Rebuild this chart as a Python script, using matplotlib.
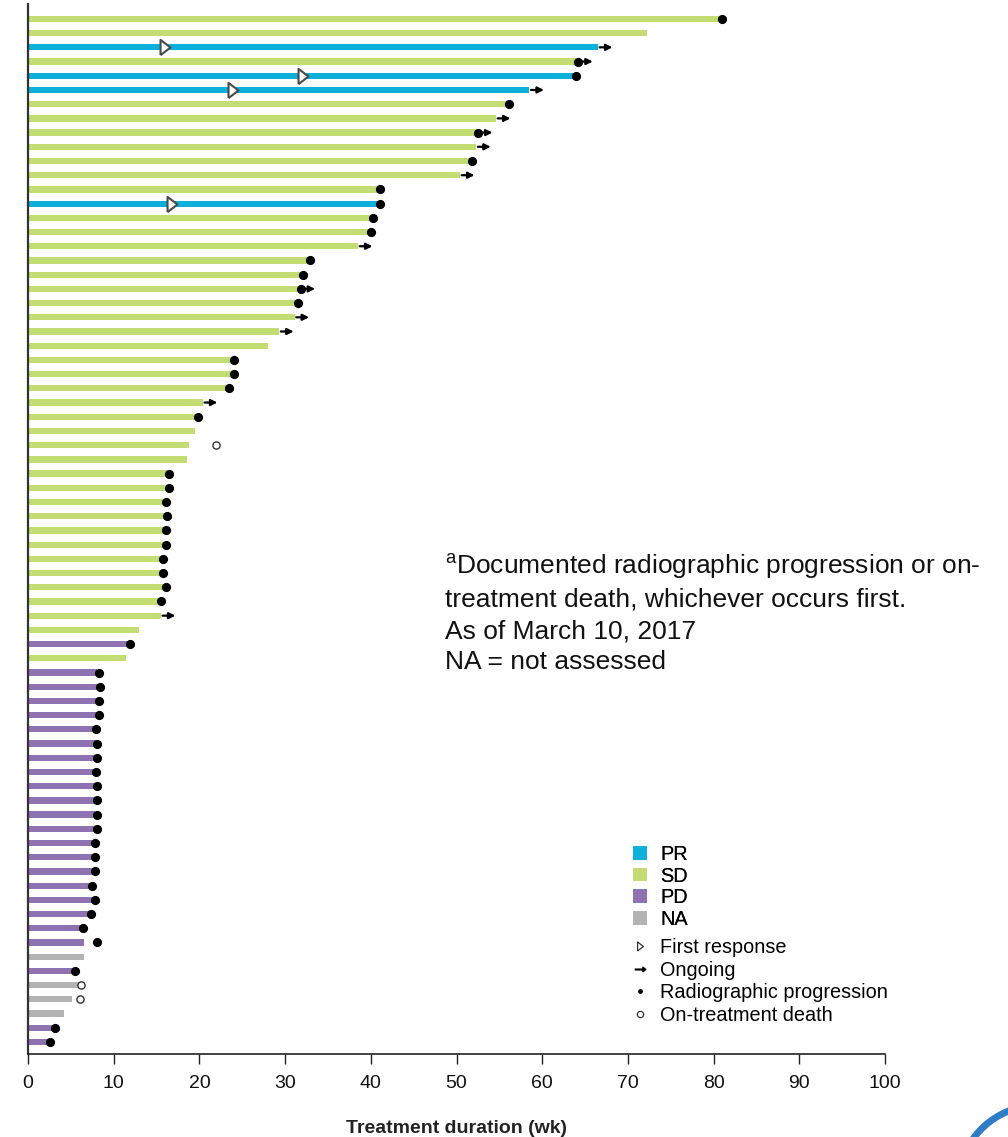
import numpy as np
import matplotlib
matplotlib.use("Agg")
import matplotlib.pyplot as plt
from matplotlib.patches import Patch, Arc
from matplotlib.lines import Line2D

plt.rcParams['font.family'] = ['Liberation Sans', 'DejaVu Sans']
plt.rcParams['mathtext.fontset'] = 'custom'
plt.rcParams['mathtext.rm'] = 'Liberation Sans'
plt.rcParams['mathtext.it'] = 'Liberation Sans:italic'

nan = np.nan

# ---- data (one entry per patient, top to bottom) ----
response = ["SD", "SD", "PR", "SD", "PR", "PR", "SD", "SD", "SD", "SD",
            "SD", "SD", "SD", "PR", "SD", "SD", "SD", "SD", "SD", "SD",
            "SD", "SD", "SD", "SD", "SD", "SD", "SD", "SD", "SD", "SD",
            "SD", "SD", "SD", "SD", "SD", "SD", "SD", "SD", "SD", "SD",
            "SD", "SD", "SD", "SD", "PD", "SD", "PD", "PD", "PD", "PD",
            "PD", "PD", "PD", "PD", "PD", "PD", "PD", "PD", "PD", "PD",
            "PD", "PD", "PD", "PD", "PD", "PD", "NA", "PD", "NA", "NA",
            "NA", "PD", "PD"]

duration = [81.0, 72.2, 66.5, 64.2, 64.0, 58.5, 56.1, 54.6, 52.5, 52.3,
            51.8, 50.4, 41.1, 41.1, 40.2, 40.0, 38.5, 32.9, 32.1, 31.8,
            31.5, 31.1, 29.3, 28.0, 24.0, 24.0, 23.7, 20.4, 19.8, 19.5,
            18.8, 18.6, 16.5, 16.4, 16.1, 16.2, 16.1, 16.1, 15.8, 15.8,
            16.1, 15.5, 15.5, 12.9, 11.6, 11.4, 8.1, 8.2, 8.1, 8.1,
            7.8, 7.9, 7.8, 7.8, 8.0, 7.9, 7.8, 7.9, 7.7, 7.7,
            7.7, 7.4, 7.7, 7.2, 6.8, 6.5, 6.5, 6.0, 6.2, 5.1,
            4.2, 2.8, 2.2]

progression = [81.0, nan, nan, 64.2, 64.0, nan, 56.1, nan, 52.5, nan,
               51.8, nan, 41.1, 41.1, 40.2, 40.0, nan, 32.9, 32.1, 31.8,
               31.5, nan, nan, nan, 24.0, 24.0, 23.5, nan, 19.8, nan,
               nan, nan, 16.5, 16.4, 16.1, 16.2, 16.1, 16.1, 15.8, 15.8,
               16.1, 15.5, nan, nan, 11.9, nan, 8.3, 8.4, 8.3, 8.3,
               7.9, 8.0, 8.0, 7.9, 8.1, 8.0, 8.0, 8.05, 7.8, 7.85,
               7.8, 7.5, 7.8, 7.3, 6.4, 8.0, nan, 5.5, nan, nan,
               nan, 3.1, 2.6]

death = [nan] * 30 + [21.9] + [nan] * 37 + [6.2, 6.1] + [nan] * 3

ongoing = [False, False, True, True, False, True, False, True, True, True,
           False, True, False, False, False, False, True, False, False, True,
           False, True, True, False, False, False, False, True, False, False,
           False, False, False, False, False, False, False, False, False, False,
           False, False, True, False, False, False, False, False, False, False,
           False, False, False, False, False, False, False, False, False, False,
           False, False, False, False, False, False, False, False, False, False,
           False, False, False]

first_response = [nan, nan, 16.0, nan, 32.1, 23.9] + [nan] * 7 + [16.8] + [nan] * 59

colors = {"PR": "#0cb0db", "SD": "#c4dc74", "PD": "#8e72b2", "NA": "#b3b3b3"}
categories = ["PR", "SD", "PD", "NA"]
xticks = [0, 10, 20, 30, 40, 50, 60, 70, 80, 90, 100]

notes = [r'$^{\mathrm{a}}$Documented radiographic progression or on-',
         'treatment death, whichever occurs first.',
         'As of March 10, 2017',
         'NA = not assessed']

# ---- figure ----
fig = plt.figure(figsize=(10.08, 11.37), dpi=100)
ax = fig.add_axes([28 / 1008, 1 - 1054 / 1137, (885 - 28) / 1008, (1054 - 4) / 1137])

y = np.arange(len(duration))
ax.barh(y, duration, height=0.44, color=[colors[r] for r in response], zorder=2)

# ongoing arrows
for yi, d, og in zip(y, duration, ongoing):
    if og:
        ax.annotate('', xy=(d + 1.7, yi), xytext=(d + 0.2, yi),
                    arrowprops=dict(arrowstyle='-|>', color='black', lw=1.6,
                                    mutation_scale=9, shrinkA=0, shrinkB=0),
                    zorder=3)

prog = np.array(progression)
ax.plot(prog, y, 'o', color='black', ms=5.6, zorder=4, linestyle='none')

dth = np.array(death)
ax.plot(dth, y, 'o', mfc='white', mec='#333333', mew=1.0, ms=5.2, zorder=4, linestyle='none')

tri = [(-0.65, -1.0), (0.65, 0.0), (-0.65, 1.0), (-0.65, -1.0)]
fr = np.array(first_response)
ax.plot(fr, y, marker=tri, mfc='white', mec='#4a4a4a', mew=1.5, ms=11, zorder=4, linestyle='none')

ax.set_xlim(0, 100)
ax.set_ylim(len(duration) - 1 + 0.85, -1.05)
ax.set_yticks([])
ax.set_xticks(xticks)
ax.set_xticklabels([str(t) for t in xticks], fontsize=14)
ax.tick_params(axis='x', direction='out', length=7, width=1.0, pad=8, color='#222222',
               labelcolor='#111111')
for s in ['top', 'right']:
    ax.spines[s].set_visible(False)
ax.spines['left'].set_linewidth(1.6)
ax.spines['left'].set_color('#333333')
ax.spines['bottom'].set_linewidth(1.2)
ax.spines['bottom'].set_color('#222222')
ax.set_xlabel('Treatment duration (wk)', fontweight='bold', fontsize=14, labelpad=20,
              color='#222222')

# footnote text
baselines = [574, 606, 638, 669]
for t, b in zip(notes, baselines):
    fig.text(445 / 1008, 1 - b / 1137, t, fontsize=19, ha='left',
             va='baseline', color='#111111')

# legends
h1 = [Patch(facecolor=colors[c], edgecolor='none', label=c) for c in categories]
leg1 = fig.legend(handles=h1, loc='upper left', bbox_to_anchor=(633 / 1008, 1 - 845 / 1137),
                  frameon=False, fontsize=14.3, handlelength=0.68, handleheight=0.68,
                  handletextpad=0.7, labelspacing=0.13, borderpad=0, borderaxespad=0)
h2 = [Line2D([], [], marker=tri, ls='none', mfc='white', mec='#333333', mew=0.9, ms=6.5, label='First response'),
      Line2D([], [], marker=r'$\rightarrow$', ls='none', color='black', ms=7.5, label='Ongoing'),
      Line2D([], [], marker='o', ls='none', color='black', ms=2.5, label='Radiographic progression'),
      Line2D([], [], marker='o', ls='none', mfc='white', mec='#333333', mew=0.9, ms=4.5, label='On-treatment death')]
leg2 = fig.legend(handles=h2, loc='upper left', bbox_to_anchor=(633 / 1008, 1 - 938 / 1137),
                  frameon=False, fontsize=14.3, handlelength=0.68,
                  handletextpad=0.7, labelspacing=0.18, borderpad=0, borderaxespad=0)
fig.add_artist(leg1)

# corner logo fragment
logo_ax = fig.add_axes([0, 0, 1, 1], facecolor='none')
logo_ax.set_xlim(0, 1008)
logo_ax.set_ylim(1137, 0)
logo_ax.axis('off')
logo_ax.add_patch(Arc((1040, 1180), 160, 150, theta1=205, theta2=285, color='#2f7dc6', lw=5))

fig.savefig('out.png', dpi=100)
